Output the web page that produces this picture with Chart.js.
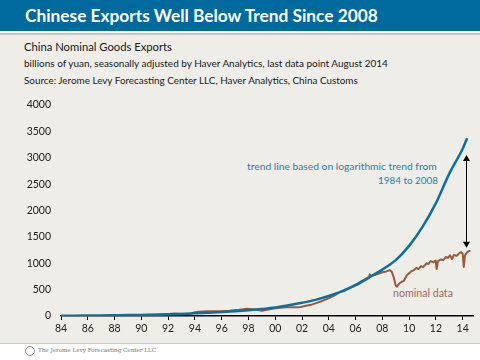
<!DOCTYPE html>
<html>
<head>
<meta charset="utf-8">
<script src="https://cdn.jsdelivr.net/npm/chart.js@4.4.1/dist/chart.umd.min.js"></script>
<style>
  html, body { margin:0; padding:0; }
  body { width:480px; height:360px; position:relative; overflow:hidden; background:#eeede8; font-family: Lato, "Open Sans", sans-serif; }
  #bar { position:absolute; left:0; top:0; width:480px; height:31px; background:#006a9e; }
  #gap { position:absolute; left:0; top:31px; width:480px; height:2px; background:#ffffff; }
  #rule { position:absolute; left:0; top:33px; width:480px; height:2px; background:#cbc7b8; }
  .t { position:absolute; white-space:nowrap; line-height:1; }
  #title { left:25px; top:15.5px; transform:translateY(-50%); color:#fff; font-weight:700; font-size:19px; }
  #s1 { left:24px; top:47px; transform:translateY(-50%); color:#1a1a1a; font-size:12.5px; }
  #s2 { left:24px; top:64px; transform:translateY(-50%); color:#1a1a1a; font-size:10.5px; }
  #s3 { left:24px; top:81px; transform:translateY(-50%); color:#1a1a1a; font-size:10.5px; }
  #a1 { left:247px; top:166px; transform:translateY(-50%); color:#1f7fb0; font-size:10.5px; }
  #a2 { left:378px; top:180.5px; transform:translateY(-50%); color:#1f7fb0; font-size:10.5px; }
  #a3 { left:393px; top:293px; transform:translateY(-50%); color:#9c6a5c; font-size:10.5px; }
  #foot { position:absolute; left:0; top:344px; width:480px; height:16px; background:#ffffff; }
  #footrule { position:absolute; left:0; top:343px; width:480px; height:1px; background:#cfcbb6; }
  #logo { position:absolute; left:25px; top:346px; width:10px; height:10px; border:1px solid #8a8f9a; border-radius:50%; box-sizing:border-box; }
  #ftext { left:38px; top:351px; transform:translateY(-50%); color:#6f6f6f; font-family:"DejaVu Serif","Liberation Serif",serif; font-size:8px; }
  #c { position:absolute; left:0; top:0; z-index:5; }
</style>
</head>
<body>
<div id="bar"></div>
<div id="gap"></div>
<div id="rule"></div>
<div id="foot"></div>
<div id="footrule"></div>
<div id="logo"></div>
<span class="t" id="title" data-w="353">Chinese Exports Well Below Trend Since 2008</span>
<span class="t" id="s1" data-w="148">China Nominal Goods Exports</span>
<span class="t" id="s2" data-w="364">billions of yuan, seasonally adjusted by Haver Analytics, last data point August 2014</span>
<span class="t" id="s3" data-w="334">Source: Jerome Levy Forecasting Center LLC, Haver Analytics, China Customs</span>
<span class="t" id="a1" data-w="190">trend line based on logarithmic trend from</span>
<span class="t" id="a2" data-w="60">1984 to 2008</span>
<span class="t" id="a3" data-w="60">nominal data</span>
<span class="t" id="ftext" data-w="118">The Jerome Levy Forecasting Center LLC</span>
<canvas id="c" width="480" height="360"></canvas>
<script>
// ---- data ----
const xTickValues = [1984,1986,1988,1990,1992,1994,1996,1998,2000,2002,2004,2006,2008,2010,2012,2014];
const yTickValues = [0,500,1000,1500,2000,2500,3000,3500,4000];

const trendYears  = [1984,1985,1986,1987,1988,1989,1990,1991,1992,1993,1994,1995,1996,1997,1998,1999,2000,2001,2002,2003,2004,2005,2006,2007,2008,2009,2010,2011,2012,2013,2014,2014.33];
const trendValues = [6,7,9,11,14,17,21,26,32,40,50,62,76,92,110,132,160,203,250,305,378,470,590,735,880,1060,1330,1690,2140,2700,3170,3370];

const nominalYears  = [1990.0,1990.5,1991.0,1991.5,1992.0,1992.4,1992.8,1993.3,1993.7,1994.0,1994.3,1994.6,1994.9,1995.3,1995.6,1995.9,1996.3,1996.6,1996.9,1997.3,1997.6,1997.9,1998.3,1998.6,1999.0,1999.3,1999.6,2000.0,2000.4,2000.8,2001.2,2001.6,2001.9,2002.3,2002.7,2003.0,2003.4,2003.8,2004.1,2004.5,2004.8,2005.2,2005.5,2005.9,2006.2,2006.5,2006.8,2007.0,2007.06,2007.14,2007.4,2007.7,2008.0,2008.3,2008.55,2008.7,2008.85,2009.0,2009.08,2009.25,2009.45,2009.6,2009.8,2009.95,2010.15,2010.35,2010.55,2010.7,2010.9,2011.05,2011.3,2011.45,2011.6,2011.8,2011.98,2012.06,2012.15,2012.35,2012.55,2012.75,2012.9,2013.05,2013.2,2013.35,2013.55,2013.75,2013.9,2014.0,2014.08,2014.17,2014.3,2014.42,2014.58];
const nominalValues = [20,23,26,29,33,47,44,36,44,72,80,86,90,92,90,88,95,100,110,118,126,136,130,120,100,115,128,145,158,165,168,167,172,195,215,240,275,315,350,400,450,480,520,565,600,645,690,720,790,745,775,800,830,845,870,840,730,580,555,610,650,665,760,800,845,870,910,890,945,925,1000,985,1040,1020,1050,890,1040,1070,1060,1120,1100,1150,1080,1160,1140,1190,1210,1180,930,1150,1200,1225,1240];

// annotation arrow (data coordinates)
const arrowYear = 2014.25, arrowTop = 3050, arrowBottom = 1295;

const BLUE = '#0a6fa3', BROWN = '#9a5a3e';

// fit text widths
function fitTexts(){
  document.querySelectorAll('[data-w]').forEach(el=>{
    const target = parseFloat(el.dataset.w);
    const fs = parseFloat(getComputedStyle(el).fontSize);
    const w = el.getBoundingClientRect().width;
    if (w>0) el.style.fontSize = (fs*target/w).toFixed(2)+'px';
  });
}
fitTexts();

const arrowPlugin = {
  id:'arrow',
  afterDatasetsDraw(chart){
    const {ctx, scales:{x,y}} = chart;
    const px = Math.round(x.getPixelForValue(arrowYear))+0.5;
    const t = y.getPixelForValue(arrowTop), b = y.getPixelForValue(arrowBottom);
    ctx.save();
    ctx.strokeStyle='#000'; ctx.fillStyle='#000'; ctx.lineWidth=1;
    ctx.beginPath(); ctx.moveTo(px,t+4); ctx.lineTo(px,b-4); ctx.stroke();
    ctx.beginPath(); ctx.moveTo(px,t); ctx.lineTo(px-3.5,t+6); ctx.lineTo(px+3.5,t+6); ctx.closePath(); ctx.fill();
    ctx.beginPath(); ctx.moveTo(px,b); ctx.lineTo(px-3.5,b-6); ctx.lineTo(px+3.5,b-6); ctx.closePath(); ctx.fill();
    ctx.restore();
  }
};

new Chart(document.getElementById('c'), {
  type:'line',
  data:{
    datasets:[
      { label:'trend', data: trendYears.map((v,i)=>({x:v, y:trendValues[i]})), borderColor:BLUE, borderWidth:2.5, pointRadius:0, cubicInterpolationMode:'monotone', fill:false },
      { label:'nominal', data: nominalYears.map((v,i)=>({x:v, y:nominalValues[i]})), borderColor:BROWN, borderWidth:2, pointRadius:0, tension:0, fill:false, borderJoinStyle:'round' }
    ]
  },
  options:{
    responsive:false, animation:false, events:[],
    layout:{ padding:{ top:105, left:0, right:7, bottom:0 } },
    plugins:{ legend:{display:false}, tooltip:{enabled:false} },
    scales:{
      x:{
        type:'linear', min:1984, max:2014.77,
        afterBuildTicks(s){ s.ticks = xTickValues.map(v=>({value:v})); },
        ticks:{ autoSkip:false, maxRotation:0, padding:2, color:'#222', font:{family:'Lato', size:10.5},
          callback:v=> String(v%100).padStart(2,'0') },
        grid:{ display:true, drawOnChartArea:false, drawTicks:true, tickLength:4, color:'#000', lineWidth:1 },
        border:{ display:true, color:'#000', width:1.5 },
        afterFit(s){ s.height = 360-316; }
      },
      y:{
        min:0, max:4000,
        afterBuildTicks(s){ s.ticks = yTickValues.map(v=>({value:v})); },
        ticks:{ padding:10, color:'#222', font:{family:'Lato', size:10.5}, callback:v=> String(v) },
        grid:{ display:false, drawTicks:false },
        border:{ display:false },
        afterFit(s){ s.width = 61; }
      }
    }
  },
  plugins:[arrowPlugin]
});
</script>
</body>
</html>
